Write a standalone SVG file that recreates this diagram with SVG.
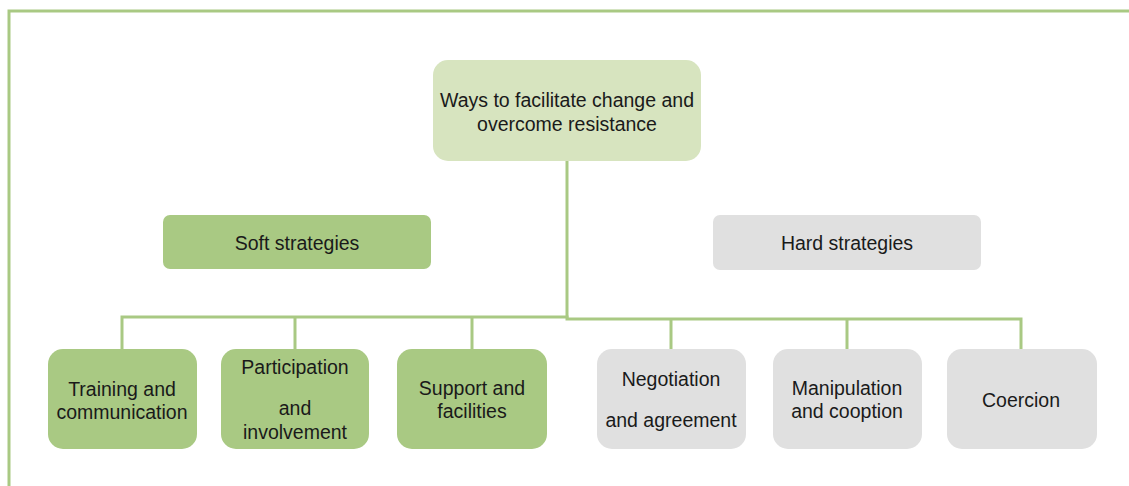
<svg xmlns="http://www.w3.org/2000/svg" width="1129" height="486" viewBox="0 0 1129 486">
<style>
.t{font-family:"Liberation Sans",Arial,sans-serif;font-size:19.5px;fill:#1a1a1a;text-anchor:middle}
.g{fill:#A9C983}
.l{fill:#D7E4BF}
.h{fill:#E0E0E0}
.c{fill:none;stroke:#A9C983;stroke-width:3}
</style>
<rect width="1129" height="486" fill="#fff"/>
<g id="frame"><path class="c" d="M9,486 V11 H1129" stroke="#ADCC8B"/></g>
<g id="connectors">
<path class="c" d="M567,161 V318"/>
<path class="c" d="M122,349 V317 H567 V319 H1021 V349"/>
<path class="c" d="M295,349 V317"/>
<path class="c" d="M472,349 V317"/>
<path class="c" d="M671,349 V319"/>
<path class="c" d="M847,349 V319"/>
</g>
<g id="root"><rect class="l" x="433" y="60" width="268" height="101" rx="15"/>
<text class="t" x="567" y="107">Ways to facilitate change and</text>
<text class="t" x="567" y="131">overcome resistance</text></g>
<g id="soft"><rect class="g" x="163" y="215" width="268" height="54" rx="7"/>
<text class="t" x="297" y="250">Soft strategies</text></g>
<g id="hard"><rect class="h" x="713" y="215" width="268" height="55" rx="7"/>
<text class="t" x="847" y="250">Hard strategies</text></g>
<g id="training"><rect class="g" x="48" y="349" width="149" height="100" rx="15"/>
<text class="t" x="122" y="396">Training and</text>
<text class="t" x="122" y="419">communication</text></g>
<g id="participation"><rect class="g" x="221" y="349" width="148" height="100" rx="15"/>
<text class="t" x="295" y="374">Participation</text>
<text class="t" x="295" y="415">and</text>
<text class="t" x="295" y="439">involvement</text></g>
<g id="support"><rect class="g" x="397" y="349" width="150" height="100" rx="15"/>
<text class="t" x="472" y="395">Support and</text>
<text class="t" x="472" y="418">facilities</text></g>
<g id="negotiation"><rect class="h" x="597" y="349" width="149" height="100" rx="15"/>
<text class="t" x="671" y="386">Negotiation</text>
<text class="t" x="671" y="427">and agreement</text></g>
<g id="manipulation"><rect class="h" x="773" y="349" width="149" height="100" rx="15"/>
<text class="t" x="847" y="395">Manipulation</text>
<text class="t" x="847" y="418">and cooption</text></g>
<g id="coercion"><rect class="h" x="947" y="349" width="150" height="100" rx="15"/>
<text class="t" x="1021" y="407">Coercion</text></g>
</svg>
